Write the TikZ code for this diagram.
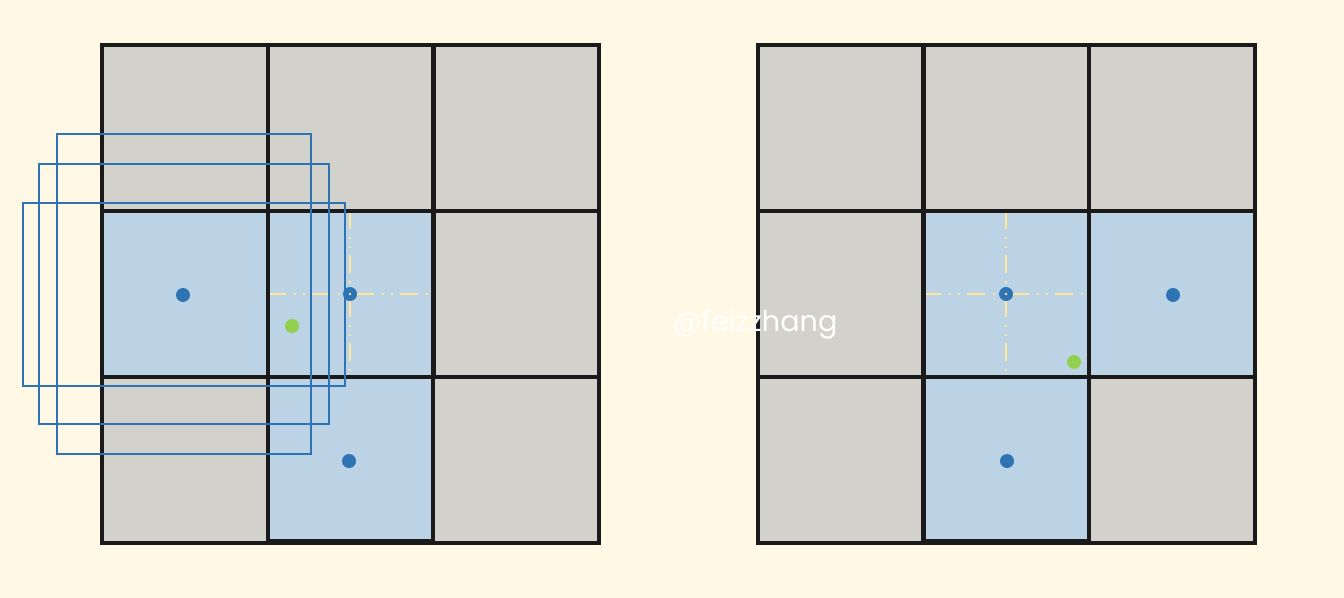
\documentclass[tikz,border=0pt]{standalone}
\usepackage{fontspec}
\newfontfamily\wmfont{Poppins}
\definecolor{bgc}{HTML}{FFF8E5}
\definecolor{cellgray}{HTML}{D2D1CC}
\definecolor{cellblue}{HTML}{BBD3E5}
\definecolor{dotblue}{HTML}{2E74B5}
\definecolor{dotgreen}{HTML}{92D050}
\definecolor{guide}{HTML}{FFE699}
\definecolor{gridline}{HTML}{1A1A1A}
\tikzset{
  graycell/.style={fill=cellgray},
  bluecell/.style={fill=cellblue},
  gridcell/.style={draw=gridline,line width=2.7pt,line join=miter},
  anchorbox/.style={draw=dotblue,line width=1.5pt},
  guideline/.style={draw=guide,line width=1.7pt,dash pattern=on 13.5pt off 6pt on 1.5pt off 5.3pt on 1.5pt off 5.3pt},
  bluedot/.style={circle,fill=dotblue,inner sep=0pt,minimum size=10.5pt},
  greendot/.style={circle,fill=dotgreen,inner sep=0pt,minimum size=10.5pt},
  holedot/.style={circle,fill=guide,inner sep=0pt,minimum size=2.2pt},
}
\begin{document}
\begin{tikzpicture}[x=0.75pt,y=-0.75pt]
\fill[bgc] (0,0) rectangle (1344,598);
\useasboundingbox (0,0) rectangle (1344,598);
% ---------- left grid ----------
\foreach \x/\y/\s in {102/45/graycell,268/45/graycell,433/45/graycell,
                      102/211/bluecell,268/211/bluecell,433/211/graycell,
                      102/377/graycell,433/377/graycell}{
  \path[\s] (\x,\y) rectangle ++(166,166);
}
\path[bluecell] (268,377) rectangle (433,541);
\draw[guideline] (268,294) -- (433,294);
\draw[guideline] (350,211) -- (350,377);
\foreach \x/\y in {102/45,268/45,433/45,102/211,268/211,433/211,102/377,433/377}{
  \draw[gridcell] (\x,\y) rectangle ++(166,166);
}
\draw[gridcell] (268,377) rectangle (433,541);
\draw[gridcell] (102,45) rectangle (599,543);
% anchor boxes
\draw[anchorbox] (57,134) rectangle (311,454);
\draw[anchorbox] (39,164) rectangle (329,424);
\draw[anchorbox] (23,203) rectangle (345,386);
% dots
\node[bluedot] (l1) at (183,295) {};
\node[bluedot] (l2) at (350,294) {};
\node[holedot] (l2h) at (350,294) {};
\node[bluedot] (l3) at (349,461) {};
\node[greendot] (lg) at (292,326) {};
% ---------- right grid ----------
\foreach \x/\y/\s in {758/45/graycell,923/45/graycell,1089/45/graycell,
                      758/211/graycell,923/211/bluecell,1089/211/bluecell,
                      758/377/graycell,1089/377/graycell}{
  \path[\s] (\x,\y) rectangle ++(166,166);
}
\path[bluecell] (923,377) rectangle (1089,541);
\draw[guideline] (923,294) -- (1089,294);
\draw[guideline] (1006,211) -- (1006,377);
\foreach \x/\y in {758/45,923/45,1089/45,758/211,923/211,1089/211,758/377,1089/377}{
  \draw[gridcell] (\x,\y) rectangle ++(166,166);
}
\draw[gridcell] (923,377) rectangle (1089,541);
\draw[gridcell] (758,45) rectangle (1255,543);
\node[bluedot] (r1) at (1006,294) {};
\node[holedot] (r1h) at (1006,294) {};
\node[bluedot] (r2) at (1173,295) {};
\node[bluedot] (r3) at (1007,461) {};
\node[greendot] (rg) at (1074,362) {};
% watermark
\node[text=white,inner sep=0pt] (wm) at (755,324) {\wmfont\fontsize{21.5pt}{24pt}\selectfont @feizzhang};
\end{tikzpicture}
\end{document}
